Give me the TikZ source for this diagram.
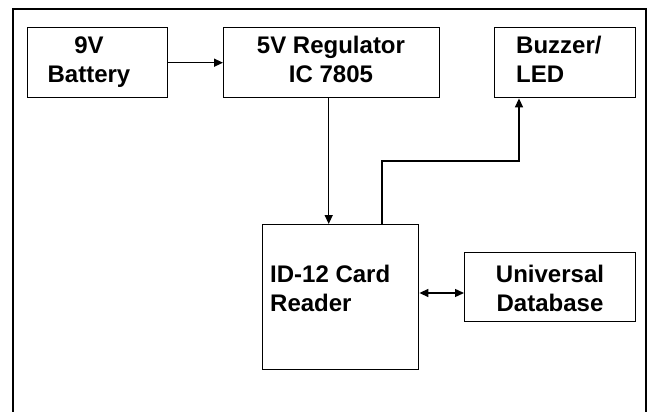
\documentclass[tikz,border=0pt]{standalone}
\usepackage{fontspec}
\setmainfont{Liberation Sans}
\usetikzlibrary{arrows.meta,calc}
\begin{document}
\begin{tikzpicture}[x=1pt,y=-1pt,
  box/.style={draw,line width=1.4pt,inner sep=0pt,anchor=north west},
  txt/.style={font=\bfseries\fontsize{24}{29}\selectfont,inner sep=0pt},
  arr/.style={line width=1.4pt,-{Triangle[length=9pt,width=8pt]}},
  darr/.style={line width=1.4pt,{Triangle[length=9pt,width=8pt]}-{Triangle[length=9pt,width=8pt]}}]
\useasboundingbox (0,0) rectangle (654,412);
\fill[white] (0,0) rectangle (654,412);
\draw[line width=1.4pt] (13,412) -- (13,9) -- (646,9) -- (646,412);
% boxes
\node[box,minimum width=140pt,minimum height=70pt] (bat) at (27,27) {};
\node[box,minimum width=216pt,minimum height=70pt] (reg) at (223,27) {};
\node[box,minimum width=141pt,minimum height=70pt] (buz) at (494,27) {};
\node[box,minimum width=156pt,minimum height=145pt] (rdr) at (262,224) {};
\node[box,minimum width=171pt,minimum height=69pt] (db) at (464,252) {};
% texts
\node[txt,align=center,anchor=base] (battxt) at (89,83) {9V\\Battery};
\node[txt,align=center,anchor=base] (regtxt) at (331,83) {5V Regulator\\IC 7805};
\node[txt,align=left,anchor=base west] (buztxt) at (516,83) {Buzzer/\\LED};
\node[txt,align=left,anchor=base west] (rdrtxt) at (270,311) {ID-12 Card\\Reader};
\node[txt,align=center,anchor=base] (dbtxt) at (550,311) {Universal\\Database};
% connectors
\draw[arr] (bat.east) -- (reg.west);
\draw[arr] ([xshift=-3pt]reg.south) -- ([xshift=-3pt]reg.south |- rdr.north);
\coordinate (up) at ([xshift=120pt]rdr.north west);
\coordinate (bz) at ([xshift=25pt]buz.south west);
\draw[arr] (up) -- ++(0,-63) -| (bz);
\draw[darr] (rdr.east |- 0,293) -- (db.west |- 0,293);
\end{tikzpicture}
\end{document}
